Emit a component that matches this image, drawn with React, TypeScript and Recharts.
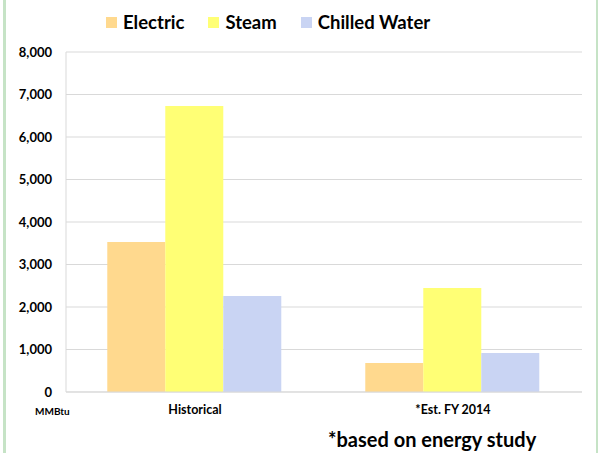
import { BarChart, Bar, XAxis, YAxis, CartesianGrid, Legend } from "recharts";

const categories = ["Historical", "*Est. FY 2014"];
const electric = [3530, 680];
const steam = [6730, 2450];
const chilledWater = [2260, 920];
const yTicks = [0, 1000, 2000, 3000, 4000, 5000, 6000, 7000, 8000];

const series = [
  { key: "electric", name: "Electric", color: "#FFD98E" },
  { key: "steam", name: "Steam", color: "#FFFF75" },
  { key: "chilled", name: "Chilled Water", color: "#C9D4F3" },
];

const data = categories.map((name, i) => ({
  name,
  electric: electric[i],
  steam: steam[i],
  chilled: chilledWater[i],
}));

const font = "Lato, 'DejaVu Sans', sans-serif";

const LegendBox = () => (
  <div
    style={{
      width: 599,
      height: 52,
      display: "flex",
      alignItems: "flex-start",
      justifyContent: "flex-start",
      paddingTop: 11,
      paddingLeft: 106,
      boxSizing: "border-box",
      fontFamily: font,
      fontWeight: 700,
      fontSize: 18.5,
      color: "#000",
    }}
  >
    {series.map((s) => (
      <div key={s.key} style={{ display: "flex", alignItems: "center", marginRight: 24 }}>
        <span
          style={{
            display: "inline-block",
            width: 11,
            height: 11,
            background: s.color,
            marginRight: 6,
          }}
        />
        <span>{s.name}</span>
      </div>
    ))}
  </div>
);

export default function App() {
  return (
    <div style={{ position: "absolute", left: 0, top: 0, width: 599, height: 453, background: "#fff", fontFamily: font }}>
      <div style={{ position: "absolute", left: 3, top: 0, width: 3, height: 453, background: "#C6E3C6" }} />
      <div style={{ position: "absolute", left: 596, top: 0, width: 2, height: 453, background: "#C6E3C6" }} />
      <BarChart
        width={599}
        height={453}
        data={data}
        margin={{ top: 0, right: 17, left: 6, bottom: 31 }}
        barCategoryGap="16%"
        barGap={0}
      >
        <Legend verticalAlign="top" wrapperStyle={{ top: 0, left: 0, width: 599, height: 52 }} content={() => <LegendBox />} />
        <CartesianGrid vertical={false} stroke="#D9D9D9" />
        <XAxis
          dataKey="name"
          axisLine={{ stroke: "#D9D9D9" }}
          tickLine={false}
          tickSize={0}
          tickMargin={13}
          height={30}
          tick={{ fill: "#000", fontSize: 12.5, fontWeight: 700, fontFamily: font }}
        />
        <YAxis
          domain={[0, 8000]}
          ticks={yTicks}
          width={60}
          interval={0}
          axisLine={{ stroke: "#D9D9D9" }}
          tickLine={false}
          tickSize={0}
          tickMargin={14}
          tickFormatter={(v: number) => v.toLocaleString("en-US")}
          tick={{ fill: "#000", fontSize: 13, fontWeight: 700, fontFamily: font }}
        />
        {series.map((s) => (
          <Bar key={s.key} dataKey={s.key} name={s.name} fill={s.color} isAnimationActive={false} />
        ))}
      </BarChart>
      <div style={{ position: "absolute", left: 35, top: 405, fontSize: 10, fontWeight: 700, color: "#000" }}>MMBtu</div>
      <div style={{ position: "absolute", left: 328, top: 427, fontSize: 20, fontWeight: 700, color: "#000" }}>
        *based on energy study
      </div>
    </div>
  );
}
